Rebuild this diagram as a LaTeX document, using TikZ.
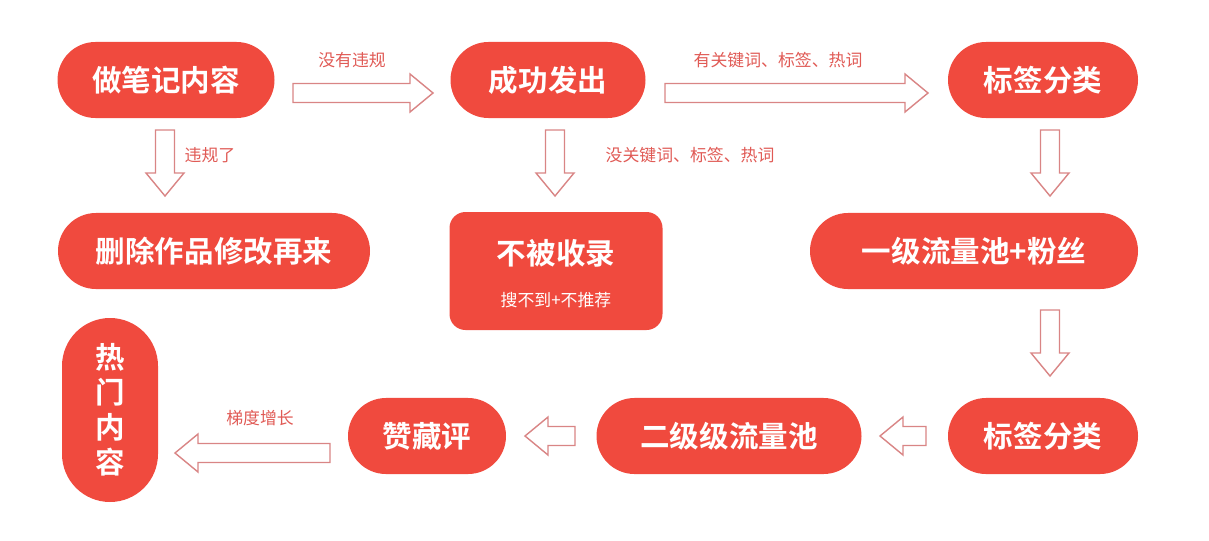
\documentclass[tikz,border=0pt]{standalone}
\usepackage{fontspec}
\setmainfont{Noto Sans CJK SC}
\newfontfamily\cjkb{Noto Sans CJK SC Bold}
\definecolor{rd}{HTML}{F04A3E}
\definecolor{ar}{HTML}{D98585}
\definecolor{lb}{HTML}{E05A55}
\newcommand\hR[3]{\draw[ar,line width=1pt,fill=white] (#1,#3-9.5) -- (#2-23,#3-9.5) -- (#2-23,#3-19) -- (#2,#3) -- (#2-23,#3+19) -- (#2-23,#3+9.5) -- (#1,#3+9.5) -- cycle;}
\newcommand\hL[3]{\draw[ar,line width=1pt,fill=white] (#1,#3-9.5) -- (#2+23,#3-9.5) -- (#2+23,#3-19) -- (#2,#3) -- (#2+23,#3+19) -- (#2+23,#3+9.5) -- (#1,#3+9.5) -- cycle;}
\newcommand\hD[3]{\draw[ar,line width=1pt,fill=white] (#1-9.5,#2) -- (#1-9.5,#3-23) -- (#1-19,#3-23) -- (#1,#3) -- (#1+19,#3-23) -- (#1+9.5,#3-23) -- (#1+9.5,#2) -- cycle;}
\begin{document}
\begin{tikzpicture}[x=0.025cm,y=-0.025cm,
  pill/.style={fill=rd,text=white,rounded corners=38\pgflinewidth*0+0.95cm,inner sep=0,font=\cjkb\fontsize{21}{24}\selectfont},
  lbl/.style={text=lb,font=\fontsize{12}{14}\selectfont}]
\useasboundingbox (0,0) rectangle (1209,540);
\node[pill,minimum width=217*0.025cm,minimum height=1.9cm] (a) at (166,80) {做笔记内容};
\node[pill,minimum width=195*0.025cm,minimum height=1.9cm] (b) at (548,80) {成功发出};
\node[pill,minimum width=190*0.025cm,minimum height=1.9cm] (c) at (1043,80) {标签分类};
\node[pill,minimum width=312*0.025cm,minimum height=1.9cm] (d) at (214,251) {删除作品修改再来};
\node[fill=rd,rounded corners=0.4cm,minimum width=213*0.025cm,minimum height=118*0.025cm] (e) at (556,271) {};
\node[text=white,font=\cjkb\fontsize{21}{24}\selectfont] (e1) at (556,253) {不被收录};
\node[text=white,font=\fontsize{12}{14}\selectfont] (e2) at (556,300) {搜不到+不推荐};
\node[pill,minimum width=328*0.025cm,minimum height=1.9cm] (f) at (974,251) {一级流量池+粉丝};
\node[fill=rd,rounded corners=1.2cm,minimum width=96*0.025cm,minimum height=184*0.025cm] (g) at (110,410) {};
\node[text=white,font=\cjkb\fontsize{21}{25}\selectfont,align=center] (g1) at (110,410) {热\\门\\内\\容};
\node[pill,minimum width=158*0.025cm,minimum height=1.9cm] (h) at (427,436) {赞藏评};
\node[pill,minimum width=265*0.025cm,minimum height=1.9cm] (i) at (729,436) {二级级流量池};
\node[pill,minimum width=190*0.025cm,minimum height=1.9cm] (j) at (1043,436) {标签分类};
\hR{293}{433}{93}
\hR{665}{928}{93}
\hD{165}{130}{196}
\hD{555}{130}{196}
\hD{1050}{130}{196}
\hD{1050}{310}{376}
\hL{926}{880}{436}
\hL{575}{525}{436}
\hL{330}{175}{453}
\node[lbl] (l1) at (352,60) {没有违规};
\node[lbl] (l2) at (778,60) {有关键词、标签、热词};
\node[lbl] (l3) at (210,155) {违规了};
\node[lbl] (l4) at (690,155) {没关键词、标签、热词};
\node[lbl] (l5) at (260,418) {梯度增长};
\end{tikzpicture}
\end{document}
